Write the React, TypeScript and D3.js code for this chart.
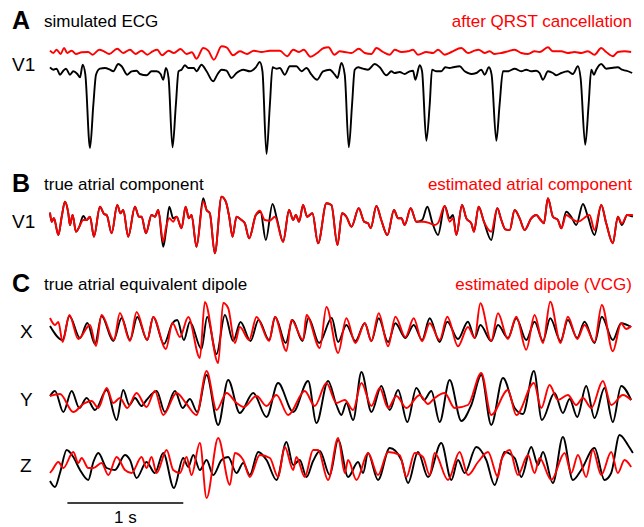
import { useEffect, useRef } from "react";
import * as d3 from "d3";

// [time (s), amplitude (a.u.)]

// A: simulated ECG (V1) and the residual after QRST cancellation
const ecgV1: [number, number][] = [[0,3.2],[0.029,0.8],[0.057,1.8],[0.086,-4.2],[0.115,-0.2],[0.138,1.8],[0.172,-4.2],[0.201,-0.8],[0.236,-3.5],[0.259,-6.8],[0.282,5.8],[0.305,-4.2],[0.345,-77.5],[0.374,-34.2],[0.397,-4.2],[0.431,1.8],[0.474,2.5],[0.517,0.8],[0.546,-0.8],[0.589,6.5],[0.618,4.2],[0.667,-4.2],[0.704,-0.8],[0.747,-0.2],[0.776,-3.5],[0.833,-4.8],[0.876,-0.8],[0.92,-0.8],[0.954,-3.5],[0.977,-9.2],[1,2.5],[1.023,-7.5],[1.057,-76.8],[1.086,-34.2],[1.109,-0.8],[1.135,0.8],[1.164,5.2],[1.193,2.5],[1.241,2.5],[1.264,-0.8],[1.307,5.8],[1.351,-0.8],[1.408,-10.8],[1.443,-4.2],[1.48,0.8],[1.523,-0.2],[1.566,-7.5],[1.609,-2.5],[1.667,0.8],[1.724,-0.8],[1.776,3.2],[1.81,8.5],[1.833,-0.8],[1.868,-83.5],[1.897,-34.2],[1.92,3.2],[1.954,1.8],[1.983,2.5],[2.026,-4.2],[2.069,4.2],[2.126,4.2],[2.17,-0.8],[2.213,2.5],[2.256,-4.2],[2.305,-9.2],[2.356,-0.8],[2.414,0.8],[2.457,-4.2],[2.48,-7.5],[2.514,7.5],[2.543,-4.2],[2.578,-76.8],[2.606,-34.2],[2.629,0.8],[2.658,3.2],[2.701,1.8],[2.744,0.8],[2.802,6.5],[2.845,3.2],[2.902,-4.8],[2.945,-0.8],[2.974,-2.5],[3.017,-1.5],[3.06,-3.5],[3.103,-0.8],[3.132,-0.2],[3.152,-9.2],[3.19,5.2],[3.21,-0.8],[3.247,-70.2],[3.276,-34.2],[3.296,0.8],[3.333,-0.8],[3.376,-0.8],[3.411,3.2],[3.448,2.5],[3.477,3.2],[3.534,4.2],[3.578,-0.8],[3.606,-2.5],[3.635,-3.5],[3.678,-2.5],[3.721,0.8],[3.75,-4.2],[3.787,3.2],[3.81,-4.2],[3.851,-70.2],[3.879,-34.2],[3.908,-0.8],[3.951,-0.8],[4.009,1.8],[4.066,-0.8],[4.109,0.8],[4.152,-0.8],[4.195,-0.2],[4.224,-2.5],[4.253,-9.2],[4.296,-0.8],[4.339,-2.5],[4.368,-4.8],[4.411,-2.5],[4.468,-0.8],[4.511,-3.5],[4.555,4.2],[4.578,-7.5],[4.618,-74.2],[4.647,-34.2],[4.67,0.8],[4.693,-4.2],[4.713,0.8],[4.756,6.5],[4.799,1.8],[4.842,2.5],[4.899,3.2],[4.934,0.8],[4.971,-0.2],[5.023,-2.5]];

const ecgV1Cancelled: [number, number][] = [[0,1.3],[0.029,-1],[0.057,2.3],[0.092,-2],[0.121,4],[0.149,-1],[0.187,1.3],[0.224,-2],[0.273,-0.3],[0.33,0],[0.368,-2.7],[0.425,2.3],[0.466,0.7],[0.511,-2],[0.58,3.3],[0.632,-1],[0.69,2.3],[0.739,-2],[0.79,1.3],[0.839,-2.7],[0.885,0.7],[0.925,2.3],[0.966,-3.3],[1.023,1.3],[1.069,-1],[1.126,3],[1.178,-2],[1.224,-0.3],[1.264,-6.7],[1.322,4],[1.365,1.3],[1.414,-7.7],[1.48,5.7],[1.523,4.7],[1.58,-3.3],[1.638,0.7],[1.701,-2],[1.759,1.3],[1.825,0],[1.897,1.3],[1.983,1.3],[2.046,-4.3],[2.098,2.3],[2.149,0],[2.19,2.3],[2.247,-4.7],[2.305,-1],[2.362,4],[2.402,4.7],[2.454,-2.7],[2.5,0.7],[2.543,0],[2.601,-1],[2.664,3.3],[2.716,-1],[2.773,-2],[2.816,4],[2.874,0],[2.931,-2.7],[2.974,2.3],[3.032,0],[3.089,0.7],[3.132,2.3],[3.175,-2.7],[3.247,0],[3.305,-1],[3.348,2.3],[3.405,-2.7],[3.463,0],[3.549,4],[3.606,-1],[3.649,0.7],[3.698,2.3],[3.75,-1],[3.793,0.7],[3.836,-2],[3.894,-1],[3.951,0.7],[4.009,2.3],[4.066,-1],[4.124,-2],[4.181,0.7],[4.224,0],[4.296,4.7],[4.339,0.7],[4.411,0.7],[4.468,-1],[4.526,0],[4.583,-1],[4.641,0.7],[4.698,-2.7],[4.756,4],[4.799,0],[4.856,-4.3],[4.899,0],[4.957,0.7],[5.014,0]];

// B: atrial component in V1, true vs estimated
const atrialTrue: [number, number][] = [[0,9.3],[0.014,0.3],[0.034,3.7],[0.072,-13],[0.101,5.3],[0.129,20.3],[0.158,8.7],[0.172,-3],[0.195,7],[0.224,-9.7],[0.253,-4.7],[0.287,6],[0.316,2],[0.345,5.3],[0.379,-14.7],[0.431,15.3],[0.466,8],[0.489,7],[0.532,-11.3],[0.58,17],[0.609,8.7],[0.632,12],[0.675,-14.7],[0.733,15.3],[0.767,5.3],[0.79,5.3],[0.828,-11.3],[0.876,7],[0.905,5.3],[0.934,12],[0.977,-24.7],[1,-9.7],[1.029,15.3],[1.063,3.7],[1.092,5.3],[1.135,-6.3],[1.17,15.3],[1.198,3.7],[1.221,7],[1.264,-24.7],[1.322,23.7],[1.351,12],[1.379,8.7],[1.422,-31.3],[1.48,25.3],[1.517,20.3],[1.546,5.3],[1.575,-14.7],[1.609,5.3],[1.652,2],[1.681,-1.3],[1.718,-16.3],[1.776,7],[1.816,10.3],[1.862,-18],[1.92,18],[1.96,2],[2.011,-19.7],[2.063,12],[2.098,2],[2.121,7],[2.149,0.3],[2.184,17],[2.218,5.3],[2.264,8.7],[2.313,-21.3],[2.385,18.7],[2.428,17],[2.48,-23],[2.52,8.7],[2.557,5.3],[2.601,-4.7],[2.664,13.7],[2.71,0.3],[2.744,-1.3],[2.767,-6.3],[2.816,16],[2.858,2],[2.911,-13],[2.968,12],[3.003,3.7],[3.032,3.7],[3.06,-3],[3.112,13.7],[3.161,0.3],[3.21,2],[3.256,15.3],[3.296,0.3],[3.348,-13],[3.405,16],[3.448,3.7],[3.477,7],[3.506,-13],[3.555,17],[3.592,3.7],[3.635,-1.3],[3.658,-9.7],[3.698,15.3],[3.744,0.3],[3.807,-18],[3.859,13.7],[3.894,2],[3.928,-7.3],[3.966,-8],[4.009,12],[4.052,3.7],[4.095,-8],[4.152,3.7],[4.195,7],[4.233,2],[4.261,-1.3],[4.296,23.7],[4.339,5.3],[4.382,2],[4.411,-6.3],[4.454,10.3],[4.497,5.3],[4.54,-3],[4.598,18],[4.641,5.3],[4.698,-13],[4.756,17],[4.799,-1.3],[4.856,-21.3],[4.899,5.3],[4.934,-3],[4.98,7],[5.029,5.3]];

const atrialEst: [number, number][] = [[0,9.3],[0.014,0.3],[0.034,3.7],[0.072,-13],[0.101,5.3],[0.129,20.3],[0.158,8.7],[0.172,-3],[0.195,7],[0.224,-9.7],[0.253,-4.7],[0.287,2],[0.316,2],[0.345,5.3],[0.379,-14.7],[0.431,15.3],[0.466,8],[0.489,7],[0.532,-11.3],[0.58,17],[0.609,8.7],[0.632,12],[0.675,-14.7],[0.733,15.3],[0.767,5.3],[0.79,5.3],[0.828,-11.3],[0.876,7],[0.905,5.3],[0.934,12],[0.977,-19.7],[1,-6],[1.029,3.7],[1.063,0.3],[1.092,5.3],[1.135,-6.3],[1.17,15.3],[1.198,3.7],[1.221,7],[1.264,-24.7],[1.322,20.3],[1.351,12],[1.379,8.7],[1.422,-31.3],[1.48,25.3],[1.517,20.3],[1.546,5.3],[1.575,-14.7],[1.609,5.3],[1.652,2],[1.681,-1.3],[1.718,-16.3],[1.776,7],[1.81,11.3],[1.853,2],[1.897,1.3],[1.94,5.3],[2.011,-19.7],[2.063,12],[2.098,2],[2.121,7],[2.149,0.3],[2.184,17],[2.218,5.3],[2.264,8.7],[2.313,-21.3],[2.385,18.7],[2.428,17],[2.48,-23],[2.52,8.7],[2.557,5.3],[2.601,-4.7],[2.664,13.7],[2.71,0.3],[2.744,-1.3],[2.767,-6.3],[2.816,16],[2.858,2],[2.911,-13],[2.968,12],[3.003,3.7],[3.032,3.7],[3.06,-3],[3.112,13.7],[3.161,0.3],[3.221,0.3],[3.279,-1.3],[3.319,-3],[3.348,-1],[3.405,16],[3.448,0.3],[3.477,3.7],[3.506,-13],[3.555,17],[3.592,3.7],[3.635,-1.3],[3.658,-9.7],[3.698,15.3],[3.744,0.3],[3.807,-9.7],[3.859,13.7],[3.894,2],[3.928,-7.3],[3.966,-8],[4.009,12],[4.052,3.7],[4.095,-8],[4.152,3.7],[4.195,7],[4.233,2],[4.261,-1.3],[4.296,23.7],[4.339,5.3],[4.382,2],[4.411,-6.3],[4.454,7],[4.497,3.7],[4.555,0.3],[4.655,7],[4.698,-8],[4.756,17],[4.799,-1.3],[4.856,-21.3],[4.899,5.3],[4.934,-1.5],[4.98,7],[5.029,7]];

// C: atrial equivalent dipole, true vs estimated (VCG)
const dipoleXTrue: [number, number][] = [[0,6],[0.109,-8],[0.167,16],[0.259,-6],[0.322,9],[0.388,-12],[0.445,16],[0.546,-9],[0.618,14],[0.69,-8],[0.753,15],[0.839,-8],[0.891,15],[0.983,-12],[1.057,9],[1.098,12],[1.155,-8],[1.207,10],[1.307,-17],[1.356,15],[1.437,-22],[1.509,17],[1.58,-9],[1.644,10],[1.73,-9],[1.799,12],[1.891,-8],[1.943,15],[2.034,-11],[2.092,12],[2.178,-9],[2.23,14],[2.322,-11],[2.431,14],[2.486,-10],[2.557,7],[2.635,-9],[2.716,8.7],[2.773,-9],[2.836,13.7],[2.917,-10],[2.98,8.7],[3.066,-6],[3.138,7],[3.21,-8],[3.276,13.7],[3.362,-10],[3.428,10.3],[3.52,-7],[3.606,10.3],[3.664,-6],[3.713,7],[3.807,-9],[3.865,7],[3.951,-6],[4.023,13.7],[4.109,-8],[4.181,10.3],[4.253,-9],[4.316,13.7],[4.405,-9],[4.468,12],[4.549,-6],[4.612,10.3],[4.698,-11],[4.761,15.3],[4.856,-8],[4.928,8.7],[5.014,5]];

const dipoleXEst: [number, number][] = [[0,14],[0.043,7],[0.072,10],[0.109,-10],[0.167,17],[0.244,-7],[0.345,7],[0.397,-14],[0.445,17],[0.552,-8],[0.603,19],[0.69,-9],[0.747,20],[0.839,-8],[0.891,15],[1,-17],[1.057,9],[1.121,-5],[1.193,15],[1.293,-26],[1.336,30],[1.451,-31],[1.494,29],[1.537,24],[1.595,-11],[1.638,5],[1.718,-8],[1.782,15],[1.891,-9],[1.94,15],[2.04,-19],[2.083,12],[2.184,-8],[2.213,17],[2.328,-16],[2.385,25],[2.486,-21],[2.557,13.7],[2.635,-11],[2.716,8.7],[2.773,-9],[2.836,18.7],[2.917,-14.3],[2.98,15.3],[3.066,-5],[3.138,13.7],[3.21,-9.3],[3.276,8.7],[3.362,-8],[3.428,15.3],[3.52,-14.3],[3.606,5],[3.664,-6],[3.713,28.7],[3.807,-9],[3.865,18.7],[3.951,-7],[4.023,15.3],[4.109,-17.7],[4.181,17],[4.253,-11],[4.316,30.3],[4.405,-11],[4.468,15.3],[4.549,-7],[4.612,7],[4.698,-10],[4.761,27],[4.856,-19.3],[4.928,8.7],[4.971,3],[5.014,6]];

const dipoleYTrue: [number, number][] = [[0,4],[0.043,9],[0.115,-12],[0.187,9],[0.253,-8],[0.316,2],[0.388,-10],[0.489,10],[0.575,-20],[0.632,10],[0.684,-5],[0.733,2],[0.79,-6],[0.833,0],[0.92,9],[0.991,-12],[1.078,9],[1.144,-8],[1.207,1],[1.27,-12],[1.351,25],[1.451,-25],[1.537,20],[1.638,-13],[1.753,7],[1.868,-17],[1.968,17],[2.098,-12],[2.227,19],[2.299,-23],[2.399,19],[2.471,-5],[2.514,-15],[2.557,-3],[2.615,-20],[2.687,28],[2.773,-12],[2.859,14],[2.931,-10],[3.003,10],[3.083,-22],[3.161,12],[3.227,0],[3.29,9],[3.362,-22],[3.448,20],[3.549,-21],[3.635,-5],[3.721,25],[3.807,-25],[3.908,22],[4.009,-8],[4.08,-14],[4.175,29],[4.244,-20],[4.353,7],[4.425,-13],[4.483,1],[4.549,-17],[4.626,14],[4.698,-18],[4.784,12],[4.856,-22],[4.928,14],[5.014,0]];

const dipoleYEst: [number, number][] = [[0,4],[0.086,6],[0.201,-12],[0.287,-4],[0.359,-1],[0.417,-8],[0.489,12],[0.546,-3],[0.603,2],[0.667,-8],[0.747,7],[0.833,-7],[0.905,9],[0.977,-15],[1.092,7],[1.178,-4],[1.264,-15],[1.351,29],[1.437,-10],[1.523,7],[1.609,-3],[1.672,-7],[1.782,4],[1.868,-6],[1.954,5],[2.055,-15],[2.198,9],[2.284,-6],[2.385,17],[2.471,-3],[2.543,0],[2.615,-10],[2.687,17],[2.773,-6],[2.845,12],[2.917,-8],[2.989,4],[3.075,-8],[3.19,5],[3.261,-4],[3.319,2],[3.405,7],[3.491,-8],[3.606,-5],[3.721,27],[3.807,-15],[3.951,10],[4.023,-15],[4.175,17],[4.239,-8],[4.31,15],[4.382,0],[4.468,5],[4.54,-5],[4.598,2],[4.67,-8],[4.77,19],[4.842,-5],[4.943,5],[5.014,0]];

const dipoleZTrue: [number, number][] = [[0,-16],[0.043,-22],[0.086,-8],[0.144,15],[0.201,8],[0.259,-5],[0.33,-15],[0.374,3],[0.417,12],[0.489,-3],[0.56,-5],[0.647,10],[0.69,5],[0.747,-13],[0.833,3],[0.905,-8],[0.977,12],[1.069,-23],[1.149,7],[1.193,-2],[1.236,10],[1.293,-5],[1.351,5],[1.408,-10],[1.48,5],[1.537,8],[1.609,-8],[1.667,2],[1.724,-10],[1.796,13],[1.868,5],[1.954,-15],[2.04,23],[2.098,0],[2.155,5],[2.213,-12],[2.27,4],[2.328,14],[2.414,-10],[2.486,25],[2.572,-12],[2.658,3],[2.701,-8],[2.744,12],[2.83,-15],[2.931,17],[3.032,5],[3.089,-18],[3.175,13],[3.261,-12],[3.376,22],[3.463,-15],[3.52,5],[3.578,-8],[3.678,18],[3.764,5],[3.836,-20],[3.922,13],[4.009,7],[4.066,-12],[4.152,18],[4.21,0],[4.253,13],[4.339,-18],[4.425,28],[4.511,-15],[4.583,-5],[4.698,17],[4.784,-15],[4.842,-8],[4.914,30],[4.986,20],[5.029,12]];

const dipoleZEst: [number, number][] = [[0,-8],[0.014,-6],[0.072,3],[0.115,-3],[0.201,13],[0.244,2],[0.273,7],[0.33,-3],[0.374,-3],[0.445,2],[0.503,-10],[0.575,8],[0.647,-5],[0.704,-8],[0.79,8],[0.833,-3],[0.876,8],[0.92,-8],[1.006,15],[1.063,-5],[1.121,-8],[1.178,8],[1.221,-10],[1.293,22],[1.351,-33],[1.451,27],[1.552,-20],[1.595,12],[1.667,5],[1.724,-12],[1.81,10],[1.897,7],[1.968,-12],[2.026,18],[2.098,-5],[2.126,8],[2.198,-12],[2.27,15],[2.313,15],[2.399,-15],[2.486,27],[2.543,-8],[2.572,5],[2.644,-15],[2.744,12],[2.83,-10],[2.917,13],[3.017,10],[3.075,-12],[3.147,12],[3.218,8],[3.276,-10],[3.319,12],[3.434,-15],[3.534,13],[3.606,-10],[3.693,3],[3.779,13],[3.865,-12],[3.894,5],[3.966,15],[4.037,-10],[4.124,10],[4.181,-8],[4.224,7],[4.325,-15],[4.44,12],[4.497,-8],[4.555,10],[4.626,-12],[4.684,15],[4.756,-10],[4.842,13],[4.899,-8],[4.957,5],[5.014,-2]];

const width = 644;
const height = 527;
const font = "'Liberation Sans', Arial, sans-serif";

function App() {
    const ref = useRef<SVGSVGElement>(null);

    useEffect(() => {
        const svg = d3.select(ref.current);
        svg.selectAll("*").remove();

        // shared time axis: 0..5 s across the page
        const x = d3.scaleLinear().domain([0, 5.03]).range([50, 633]);

        // each trace gets its own vertical strip
        const strip = (center: number) =>
            d3.scaleLinear().domain([-40, 40]).range([center + 40, center - 40]);

        const traces = [
            {data: ecgV1, center: 70.5, color: "#000"},
            {data: ecgV1Cancelled, center: 52, color: "#ff0000"},
            {data: atrialTrue, center: 222, color: "#000"},
            {data: atrialEst, center: 222, color: "#ff0000"},
            {data: dipoleXTrue, center: 332, color: "#000"},
            {data: dipoleXEst, center: 332, color: "#ff0000"},
            {data: dipoleYTrue, center: 400, color: "#000"},
            {data: dipoleYEst, center: 400, color: "#ff0000"},
            {data: dipoleZTrue, center: 465, color: "#000"},
            {data: dipoleZEst, center: 465, color: "#ff0000"},
        ];

        traces.forEach(tr => {
            const y = strip(tr.center);
            const line = d3.line<[number, number]>()
                .x(d => x(d[0]))
                .y(d => y(d[1]))
                .curve(d3.curveMonotoneX);
            svg.append("path")
                .datum(tr.data)
                .attr("d", line)
                .attr("fill", "none")
                .attr("stroke", tr.color)
                .attr("stroke-width", 1.9)
                .attr("stroke-linejoin", "round");
        });

        // panel letters and titles
        const headers = [
            {letter: "A", left: "simulated ECG", right: "after QRST cancellation", y: 27},
            {letter: "B", left: "true atrial component", right: "estimated atrial component", y: 190},
            {letter: "C", left: "true atrial equivalent dipole", right: "estimated dipole (VCG)", y: 290},
        ];
        headers.forEach(h => {
            svg.append("text").attr("x", 12).attr("y", h.y + 2)
                .attr("font-family", font).attr("font-size", 25).attr("font-weight", "bold")
                .text(h.letter);
            svg.append("text").attr("x", 44).attr("y", h.y)
                .attr("font-family", font).attr("font-size", 17)
                .text(h.left);
            svg.append("text").attr("x", 632).attr("y", h.y)
                .attr("font-family", font).attr("font-size", 17).attr("text-anchor", "end")
                .attr("fill", "#ff0000")
                .text(h.right);
        });

        // lead names
        const leads = [
            {name: "V1", x: 12, y: 71},
            {name: "V1", x: 12, y: 228},
            {name: "X", x: 20, y: 338},
            {name: "Y", x: 20, y: 406},
            {name: "Z", x: 20, y: 472},
        ];
        leads.forEach(l => {
            svg.append("text").attr("x", l.x).attr("y", l.y)
                .attr("font-family", font).attr("font-size", 19)
                .text(l.name);
        });

        // 1 s scale bar
        svg.append("line")
            .attr("x1", x(0.15)).attr("x2", x(1.15))
            .attr("y1", 503).attr("y2", 503)
            .attr("stroke", "#000").attr("stroke-width", 1.5);
        svg.append("text")
            .attr("x", x(0.65)).attr("y", 523)
            .attr("font-family", font).attr("font-size", 17).attr("text-anchor", "middle")
            .text("1 s");
    }, []);

    return (
        <svg ref={ref} width={width} height={height}
             style={{position: "absolute", left: 0, top: 0, background: "#fff"}} />
    );
}

export default App;
